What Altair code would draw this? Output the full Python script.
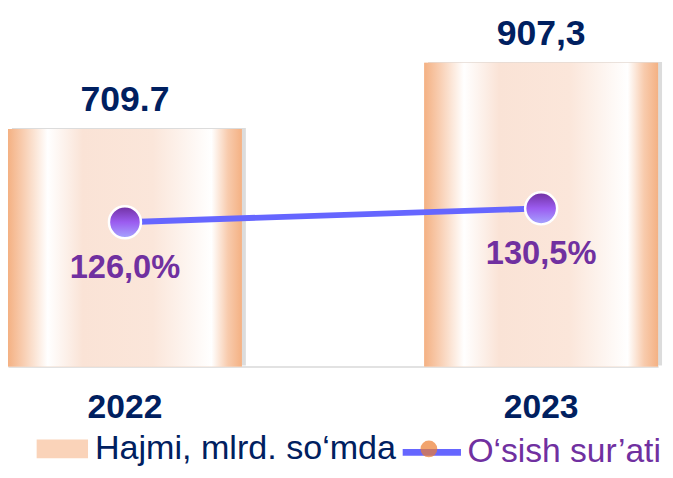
import altair as alt
import pandas as pd

# ---- data ----
years = ["2022", "2023"]
volume = [709.7, 907.3]
volume_labels = ["709.7", "907,3"]
growth = [126.0, 130.5]
growth_labels = ["126,0%", "130,5%"]
bar_series = "Hajmi, mlrd. so‘mda"
line_series = "O‘sish sur’ati"

df = pd.DataFrame({
    "year": years,
    "volume": volume,
    "vlabel": volume_labels,
    "growth": growth,
    "glabel": growth_labels,
})
df["bar_series"] = bar_series
df["line_series"] = line_series

FONT = "Liberation Sans"
NAVY = "#002060"
PURPLE = "#7030A0"

bar_gradient = alt.LinearGradient(
    gradient="linear", x1=0, y1=0, x2=1, y2=0,
    stops=[
        alt.GradientStop(color="#F4B183", offset=0),
        alt.GradientStop(color="#F8CBAD", offset=0.06),
        alt.GradientStop(color="#FFFFFF", offset=0.17),
        alt.GradientStop(color="#FAE3D6", offset=0.32),
        alt.GradientStop(color="#FBE6DA", offset=0.62),
        alt.GradientStop(color="#FFFFFF", offset=0.87),
        alt.GradientStop(color="#F8CBAD", offset=0.94),
        alt.GradientStop(color="#F4B183", offset=1),
    ],
)
dot_gradient = alt.LinearGradient(
    gradient="linear", x1=0, y1=0, x2=0, y2=1,
    stops=[
        alt.GradientStop(color="#7030A0", offset=0),
        alt.GradientStop(color="#9B5CF0", offset=0.5),
        alt.GradientStop(color="#A6A6FF", offset=1),
    ],
)

x_enc = alt.X(
    "year:N",
    scale=alt.Scale(paddingInner=0.438, paddingOuter=0),
    axis=alt.Axis(
        title=None, labelAngle=0, labelFont=FONT, labelFontSize=34,
        labelFontWeight="bold", labelColor=NAVY, ticks=False,
        domainColor="#D9D9D9", domainWidth=1.5, labelPadding=25,
    ),
)
y_vol = alt.Y("volume:Q", scale=alt.Scale(domain=[0, 1063]), axis=None)
y_gr = alt.Y("growth:Q", scale=alt.Scale(domain=[79.05, 194.8]), axis=None)

base = alt.Chart(df)

shadow = base.mark_bar(color="#9A9A9A", opacity=0.35, xOffset=4, yOffset=-1).encode(
    x=x_enc, y=y_vol
)

bar_legend = base.mark_bar().encode(
    x=x_enc, y=y_vol,
    fill=alt.Fill(
        "bar_series:N",
        scale=alt.Scale(range=["#FAD3B9"]),
        legend=alt.Legend(
            title=None, orient="none", legendX=29, legendY=417.5,
            symbolType="M-1,-0.365H1V0.365H-1Z", symbolSize=2704,
            symbolStrokeWidth=0, labelFont=FONT, labelFontSize=34.5,
            labelColor=NAVY, labelOffset=7, padding=0, labelLimit=400,
        ),
    ),
)

bars = base.mark_bar(fill=bar_gradient).encode(x=x_enc, y=y_vol)

vol_text = base.mark_text(
    baseline="alphabetic", dy=-18, font=FONT, fontSize=36,
    fontWeight="bold", color=NAVY,
).encode(x=x_enc, y=y_vol, text="vlabel:N")

line = base.mark_line(strokeWidth=6).encode(
    x=x_enc, y=y_gr,
    stroke=alt.Stroke(
        "line_series:N",
        scale=alt.Scale(range=["#6666FF"]),
        legend=alt.Legend(
            title=None, orient="none", legendX=396, legendY=414,
            symbolType="stroke", symbolSize=3481, symbolStrokeWidth=7,
            labelFont=FONT, labelFontSize=34, labelColor=PURPLE,
            labelOffset=3, padding=0, labelLimit=400,
        ),
    ),
)

dot_legend = base.mark_point(filled=True, color="#ED7D31", size=0).encode(
    x=x_enc, y=y_gr,
    shape=alt.Shape(
        "line_series:N",
        scale=alt.Scale(range=["circle"]),
        legend=alt.Legend(
            title=None, orient="none", legendX=417.5, legendY=435,
            symbolSize=289, symbolFillColor="#ED7D31", symbolStrokeWidth=0,
            labelExpr="''", padding=0,
        ),
    ),
)

dots = base.mark_point(
    filled=True, fill=dot_gradient, stroke="white", strokeWidth=2.5,
    size=1050, opacity=1,
).encode(x=x_enc, y=y_gr)

gr_text = base.mark_text(
    baseline="alphabetic", dy=56, font=FONT, fontSize=33,
    fontWeight="bold", color=PURPLE,
).encode(x=x_enc, y=y_gr, text="glabel:N")

left = alt.layer(shadow, bar_legend, bars, vol_text)
right = alt.layer(line, dot_legend, dots, gr_text)

chart = (
    alt.layer(left, right)
    .resolve_scale(y="independent")
    .properties(
        width=658, height=360, background="white",
        autosize=alt.AutoSizeParams(type="none"),
        padding={"left": 0, "top": 0, "right": 7, "bottom": 102},
    )
    .configure_view(stroke=None)
)

chart.save("out.html", embed_options={"renderer": "svg", "actions": False})
